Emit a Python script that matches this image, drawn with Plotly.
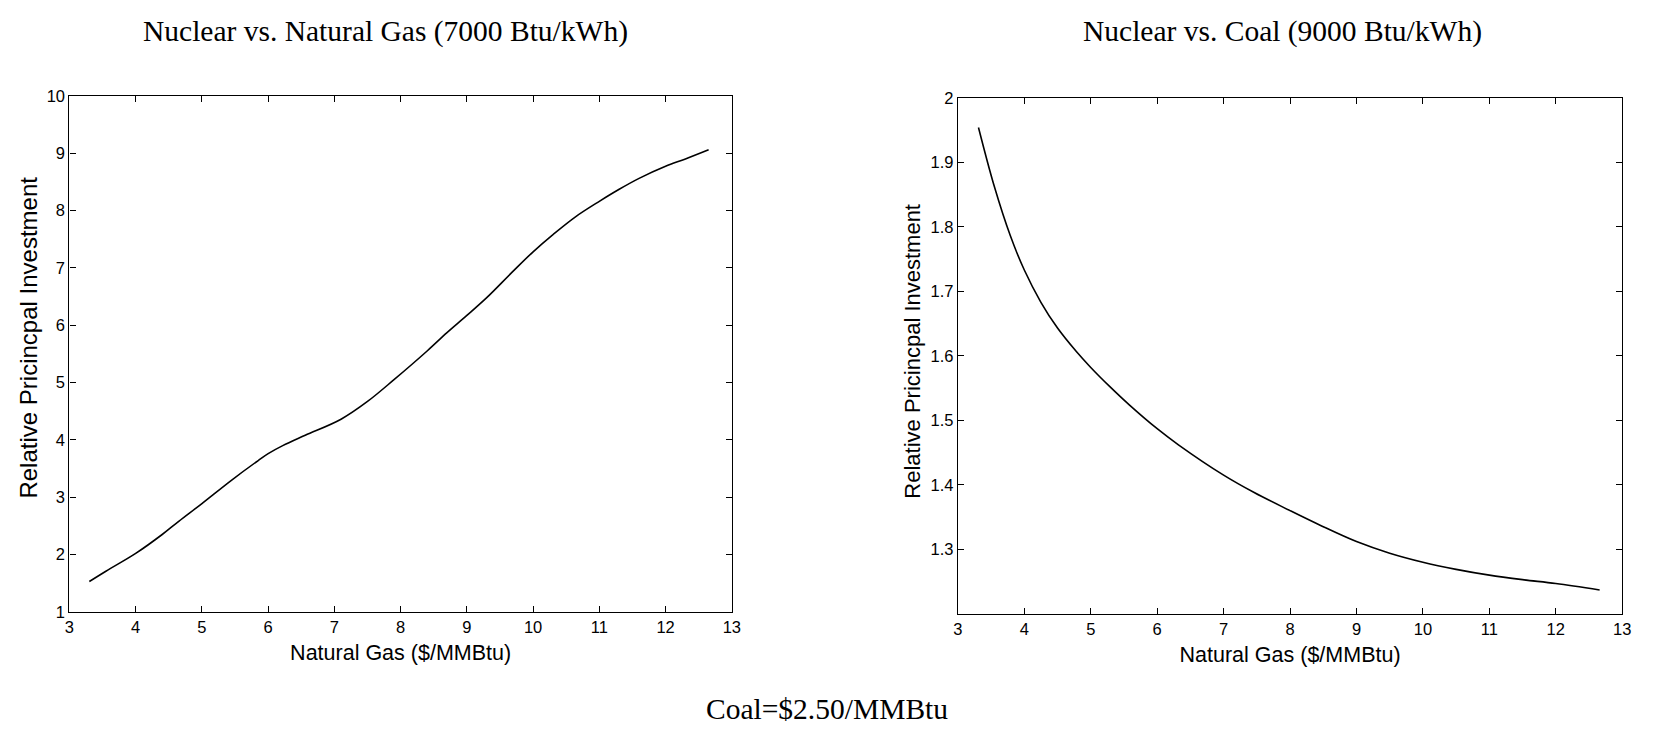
import plotly.graph_objects as go

# Left panel: Nuclear vs. Natural Gas (7000 Btu/kWh)
gas_price_left = [3.30, 3.55, 4.00, 4.40, 4.65, 5.00, 5.45, 5.85, 6.00, 6.22, 6.56,
                  7.10, 7.50, 7.90, 8.40, 8.70, 9.00, 9.30, 9.68, 10.00, 10.30,
                  10.64, 11.00, 11.30, 11.60, 12.00, 12.30, 12.65]
investment_left = [1.53, 1.71, 2.02, 2.35, 2.58, 2.89, 3.30, 3.64, 3.76, 3.90, 4.08,
                   4.36, 4.67, 5.05, 5.55, 5.87, 6.17, 6.48, 6.92, 7.28, 7.58,
                   7.89, 8.16, 8.37, 8.56, 8.77, 8.90, 9.06]

# Right panel: Nuclear vs. Coal (9000 Btu/kWh)
gas_price_right = [3.31, 3.55, 3.79, 4.00, 4.25, 4.50, 4.78, 5.00, 5.28, 5.58, 6.00,
                   6.32, 7.00, 7.46, 8.00, 8.46, 9.00, 9.50, 10.00, 10.50, 11.00,
                   11.50, 12.00, 12.66]
investment_right = [1.954, 1.862, 1.786, 1.733, 1.683, 1.643, 1.607, 1.582, 1.553,
                    1.524, 1.487, 1.462, 1.415, 1.388, 1.360, 1.337, 1.312, 1.294,
                    1.280, 1.269, 1.260, 1.253, 1.247, 1.237]

x_ticks = list(range(3, 14))
left_y_ticks = list(range(1, 11))
right_y_ticks = [1.3, 1.4, 1.5, 1.6, 1.7, 1.8, 1.9, 2.0]
right_y_ticktext = ["1.3", "1.4", "1.5", "1.6", "1.7", "1.8", "1.9", "2"]

titles = ["Nuclear vs. Natural Gas (7000 Btu/kWh)", "Nuclear vs. Coal (9000 Btu/kWh)"]
x_title = "Natural Gas ($/MMBtu)"
y_title = "Relative Pricincpal Investment"
caption = "Coal=$2.50/MMBtu"

W, H = 1657, 737
fig = go.Figure()
fig.add_trace(go.Scatter(x=gas_price_left, y=investment_left, mode="lines",
                         line=dict(color="black", width=1.6, shape="spline", smoothing=1.0),
                         xaxis="x", yaxis="y", showlegend=False, hoverinfo="skip"))
fig.add_trace(go.Scatter(x=gas_price_right, y=investment_right, mode="lines",
                         line=dict(color="black", width=1.6, shape="spline", smoothing=1.0),
                         xaxis="x2", yaxis="y2", showlegend=False, hoverinfo="skip"))

sans = "Liberation Sans, Arial, Helvetica, sans-serif"
serif = "Liberation Serif, Times New Roman, serif"

axis_common = dict(showline=True, linecolor="black", linewidth=1.2, mirror="ticks",
                   ticks="inside", ticklen=6, tickcolor="black", tickwidth=1.2,
                   showgrid=False, zeroline=False,
                   tickfont=dict(family=sans, size=16.5, color="black"))

fig.update_layout(
    width=W, height=H,
    margin=dict(l=0, r=0, t=0, b=0),
    paper_bgcolor="white", plot_bgcolor="white",
    xaxis=dict(domain=[65 / W, 733 / W], range=[3, 13], tickvals=x_ticks, anchor="y",
               title=dict(text=x_title, font=dict(family=sans, size=21.5, color="black"), standoff=10),
               **axis_common),
    yaxis=dict(domain=[1 - 618 / H, 1 - 89 / H], range=[1, 10], tickvals=left_y_ticks, anchor="x",
               **axis_common),
    xaxis2=dict(domain=[961 / W, 1631 / W], range=[3, 13], tickvals=x_ticks, anchor="y2",
                title=dict(text=x_title, font=dict(family=sans, size=21.5, color="black"), standoff=10),
                **axis_common),
    yaxis2=dict(domain=[1 - 620 / H, 1 - 91 / H], range=[1.2, 2.0], tickvals=right_y_ticks,
                ticktext=right_y_ticktext, anchor="x2",
                **axis_common),
)

# y-axis titles (placed as rotated text to match the reference positions)
fig.add_annotation(text=y_title, x=24 / W, y=1 - 337 / H, xref="paper", yref="paper",
                   xanchor="center", yanchor="middle", showarrow=False, textangle=-90,
                   font=dict(family=sans, size=24, color="black"))
fig.add_annotation(text=y_title, x=915 / W, y=1 - 351 / H, xref="paper", yref="paper",
                   xanchor="center", yanchor="middle", showarrow=False, textangle=-90,
                   font=dict(family=sans, size=22, color="black"))

fig.add_annotation(text=titles[0], x=383.5 / W, y=1 - 23 / H, xref="paper", yref="paper",
                   xanchor="center", yanchor="middle", showarrow=False,
                   font=dict(family=serif, size=29.5, color="black"))
fig.add_annotation(text=titles[1], x=1288 / W, y=1 - 23 / H, xref="paper", yref="paper",
                   xanchor="center", yanchor="middle", showarrow=False,
                   font=dict(family=serif, size=29.5, color="black"))
fig.add_annotation(text=caption, x=829 / W, y=1 - 718 / H, xref="paper", yref="paper",
                   xanchor="center", yanchor="middle", showarrow=False,
                   font=dict(family=serif, size=29.5, color="black"))

fig.write_html("out.html")
